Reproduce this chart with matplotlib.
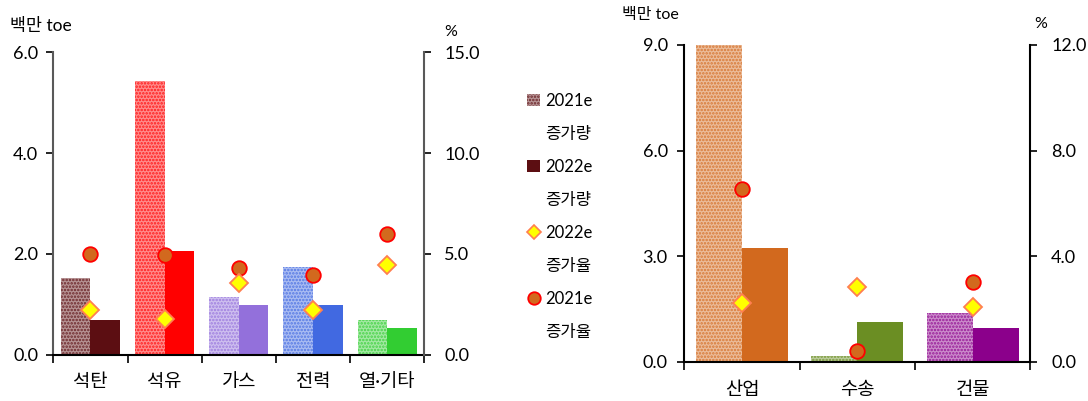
import matplotlib.pyplot as plt
import matplotlib.colors as mcolors
from matplotlib.patches import Patch
from matplotlib.lines import Line2D
import numpy as np

plt.rcParams['font.family'] = ['Lato', 'Noto Sans CJK KR', 'DejaVu Sans']
plt.rcParams['hatch.linewidth'] = 1.2

# left panel: by energy source
src_names = ['석탄', '석유', '가스', '전력', '열·기타']
src_inc_2021 = [1.52, 5.43, 1.15, 1.74, 0.69]
src_inc_2022 = [0.69, 2.06, 0.99, 0.99, 0.53]
src_rate_2022 = [2.2, 1.78, 3.56, 2.2, 4.46]
src_rate_2021 = [5.0, 4.95, 4.3, 3.96, 6.0]
src_colors = ['#5C0E12', '#FF0000', '#9370DB', '#4169E1', '#32CD32']

# right panel: by sector
sec_names = ['산업', '수송', '건물']
sec_inc_2021 = [9.0, 0.16, 1.38]
sec_inc_2022 = [3.23, 1.13, 0.96]
sec_rate_2022 = [2.21, 2.84, 2.07]
sec_rate_2021 = [6.53, 0.42, 3.03]
sec_colors = ['#D2691E', '#6B8E23', '#8B008B']


def lighten(c, amt):
    r = np.array(mcolors.to_rgb(c))
    return tuple(r + (1 - r) * amt)


def panel(ax, names, inc21, inc22, r22, r21, colors, ylim, rlim, spine_col, lpad, rpad, xpad):
    x = np.arange(len(names))
    for i in x:
        ax.bar(i - 0.2, inc21[i], 0.4, facecolor=lighten(colors[i], 0.55),
               edgecolor=lighten(colors[i], 0.1), hatch='.....', lw=0)
        ax.bar(i + 0.2, inc22[i], 0.4, color=colors[i], lw=0)
    ax.set_xlim(-0.5, len(names) - 0.5)
    ax.set_ylim(*ylim)
    ax.set_yticks(np.linspace(ylim[0], ylim[1], 4))
    ax.yaxis.set_major_formatter(plt.FormatStrFormatter('%.1f'))
    ax.set_xticks(np.arange(len(names) + 1) - 0.5)
    ax.set_xticklabels([])
    ax.set_xticks(x, minor=True)
    ax.set_xticklabels(names, minor=True, fontsize=13.5)
    ax.tick_params(axis='x', which='minor', length=0, pad=xpad)
    ax.tick_params(axis='x', which='major', length=6, direction='out', width=1.2)
    ax.tick_params(axis='y', length=5, width=1.2, labelsize=13, pad=lpad)
    for s in ['top', 'right']:
        ax.spines[s].set_visible(False)
    ax.spines['left'].set_color(spine_col)
    ax.spines['left'].set_linewidth(1.5)
    ax.spines['bottom'].set_linewidth(1.5)

    ax2 = ax.twinx()
    ax2.set_ylim(*rlim)
    ax2.set_yticks(np.linspace(rlim[0], rlim[1], 4))
    ax2.yaxis.set_major_formatter(plt.FormatStrFormatter('%.1f'))
    ax2.tick_params(axis='y', length=5, width=1.2, labelsize=13, pad=rpad)
    for s in ['top', 'left', 'bottom']:
        ax2.spines[s].set_visible(False)
    ax2.spines['right'].set_color(spine_col)
    ax2.spines['right'].set_linewidth(1.5)
    ax2.plot(x, r21, 'o', ms=10.5, mfc='#D2691E', mec='#FF0000', mew=1.3, zorder=5)
    ax2.plot(x, r22, 'D', ms=9.5, mfc='#FFFF00', mec='#FF7F50', mew=1.3, zorder=5)
    return ax2


fig = plt.figure(figsize=(10.88, 4.01), dpi=100)
ax_l = fig.add_axes([0.049, 0.115, 0.341, 0.755])
ax_r = fig.add_axes([0.629, 0.098, 0.318, 0.79])

panel(ax_l, src_names, src_inc_2021, src_inc_2022, src_rate_2022, src_rate_2021,
      src_colors, (0, 6), (0, 15), '#595959', 6, 9.5, 13)
panel(ax_r, sec_names, sec_inc_2021, sec_inc_2022, sec_rate_2022, sec_rate_2021,
      sec_colors, (0, 9), (0, 12), 'black', 7, 10, 14)

fig.text(0.009, 0.935, '백만 toe', fontsize=12.5, va='center')
fig.text(0.408, 0.92, '%', fontsize=11.5, va='center')
fig.text(0.572, 0.962, '백만 toe', fontsize=11.5, va='center')
fig.text(0.951, 0.94, '%', fontsize=11.5, va='center')

blank = Patch(alpha=0)
handles = [
    Patch(facecolor=lighten(src_colors[0], 0.55), edgecolor=lighten(src_colors[0], 0.1),
          hatch='.....', lw=0),
    blank,
    Patch(facecolor=src_colors[0], lw=0),
    blank,
    Line2D([], [], marker='D', ls='none', ms=7, mfc='#FFFF00', mec='#FF7F50', mew=1.2),
    blank,
    Line2D([], [], marker='o', ls='none', ms=9, mfc='#D2691E', mec='#FF0000', mew=1.3),
    blank,
]
labels = ['2021e', '증가량', '2022e', '증가량', '2022e', '증가율', '2021e', '증가율']
leg = fig.legend(handles, labels, loc='upper left', bbox_to_anchor=(0.477, 0.79),
                 frameon=False, fontsize=12, handlelength=0.75, handleheight=0.75,
                 handletextpad=0.3, labelspacing=1.02, borderpad=0)

fig.savefig('out.png', dpi=100)
